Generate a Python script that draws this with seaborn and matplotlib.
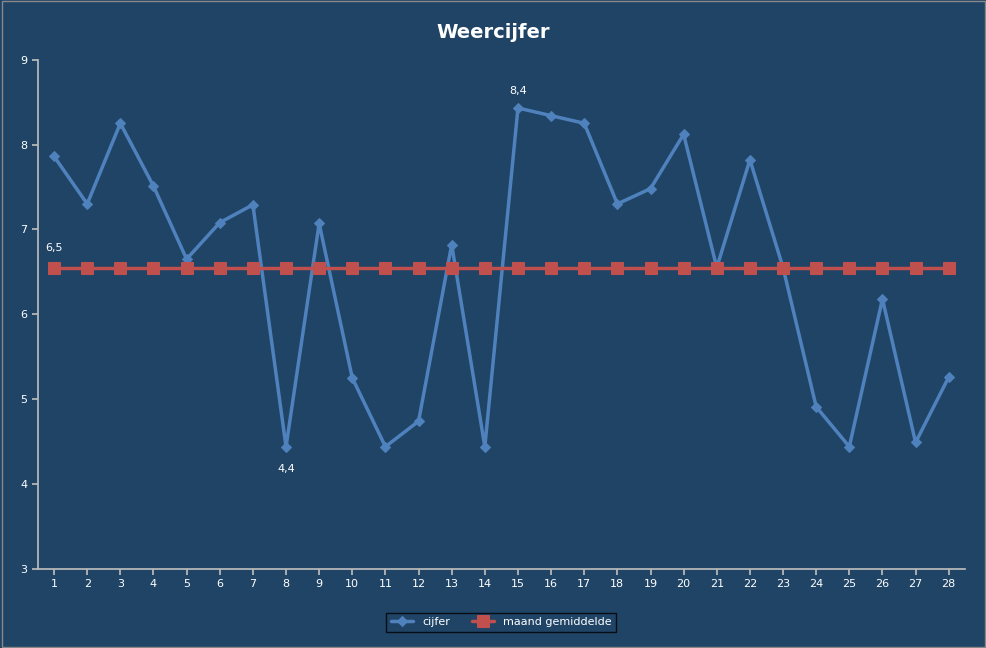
import matplotlib
matplotlib.use("Agg")
import matplotlib.pyplot as plt
import seaborn as sns
import pandas as pd

days = list(range(1, 29))
cijfer = [7.86, 7.30, 8.25, 7.51, 6.65, 7.08, 7.29, 4.44, 7.07, 5.25, 4.44, 4.74, 6.82, 4.44,
          8.43, 8.34, 8.25, 7.30, 7.48, 8.12, 6.55, 7.82, 6.55, 4.91, 4.44, 6.18, 4.49, 5.26]
gemiddelde = [6.55] * 28

sns.set_theme(style="white")
plt.rcParams['font.family'] = ['DejaVu Sans']
bg = "#1F4466"
fig = plt.figure(figsize=(9.87, 6.48), dpi=100, facecolor=bg)
ax = fig.add_axes([0.038, 0.122, 0.94, 0.786])
ax.set_facecolor(bg)
df = pd.DataFrame({"dag": days, "cijfer": cijfer, "gem": gemiddelde})
sns.lineplot(data=df, x="dag", y="cijfer", ax=ax, color="#4F81BD", lw=2.5, marker="D",
             markersize=5, markeredgecolor="#4F81BD", label="cijfer")
sns.lineplot(data=df, x="dag", y="gem", ax=ax, color="#C0504D", lw=2.5, marker="s",
             markersize=8, markeredgecolor="#C0504D", label="maand gemiddelde")
ax.set_xlim(0.5, 28.5)
ax.set_ylim(3, 9)
ax.set_xticks(days)
ax.set_yticks(range(3, 10))
ax.tick_params(colors="white", labelsize=8, length=4, color="#BBBBBB", direction="out", left=True, bottom=True)
ax.set_xlabel(""); ax.set_ylabel("")
for s in ["top", "right"]:
    ax.spines[s].set_visible(False)
for s in ["left", "bottom"]:
    ax.spines[s].set_color("#BBBBBB")
ax.annotate("6,5", (1, gemiddelde[0]), xytext=(0, 12), textcoords="offset points", ha="center", color="white", fontsize=8)
ax.annotate("4,4", (8, cijfer[7]), xytext=(0, -18), textcoords="offset points", ha="center", color="white", fontsize=8)
ax.annotate("8,4", (15, cijfer[14]), xytext=(0, 10), textcoords="offset points", ha="center", color="white", fontsize=8)
fig.suptitle("Weercijfer", color="white", fontsize=14, fontweight="bold", y=0.965)
leg = ax.legend(loc="upper center", bbox_to_anchor=(0.5, -0.075), ncol=2, frameon=True, fontsize=8,
                facecolor=bg, edgecolor="black", fancybox=False, borderpad=0.4)
for t in leg.get_texts():
    t.set_color("white")
fig.patches.append(plt.Rectangle((0.002, 0.002), 0.996, 0.996, transform=fig.transFigure,
                                 fill=False, edgecolor="#888888", lw=1))
fig.savefig("out.png", dpi=100, facecolor=bg)
